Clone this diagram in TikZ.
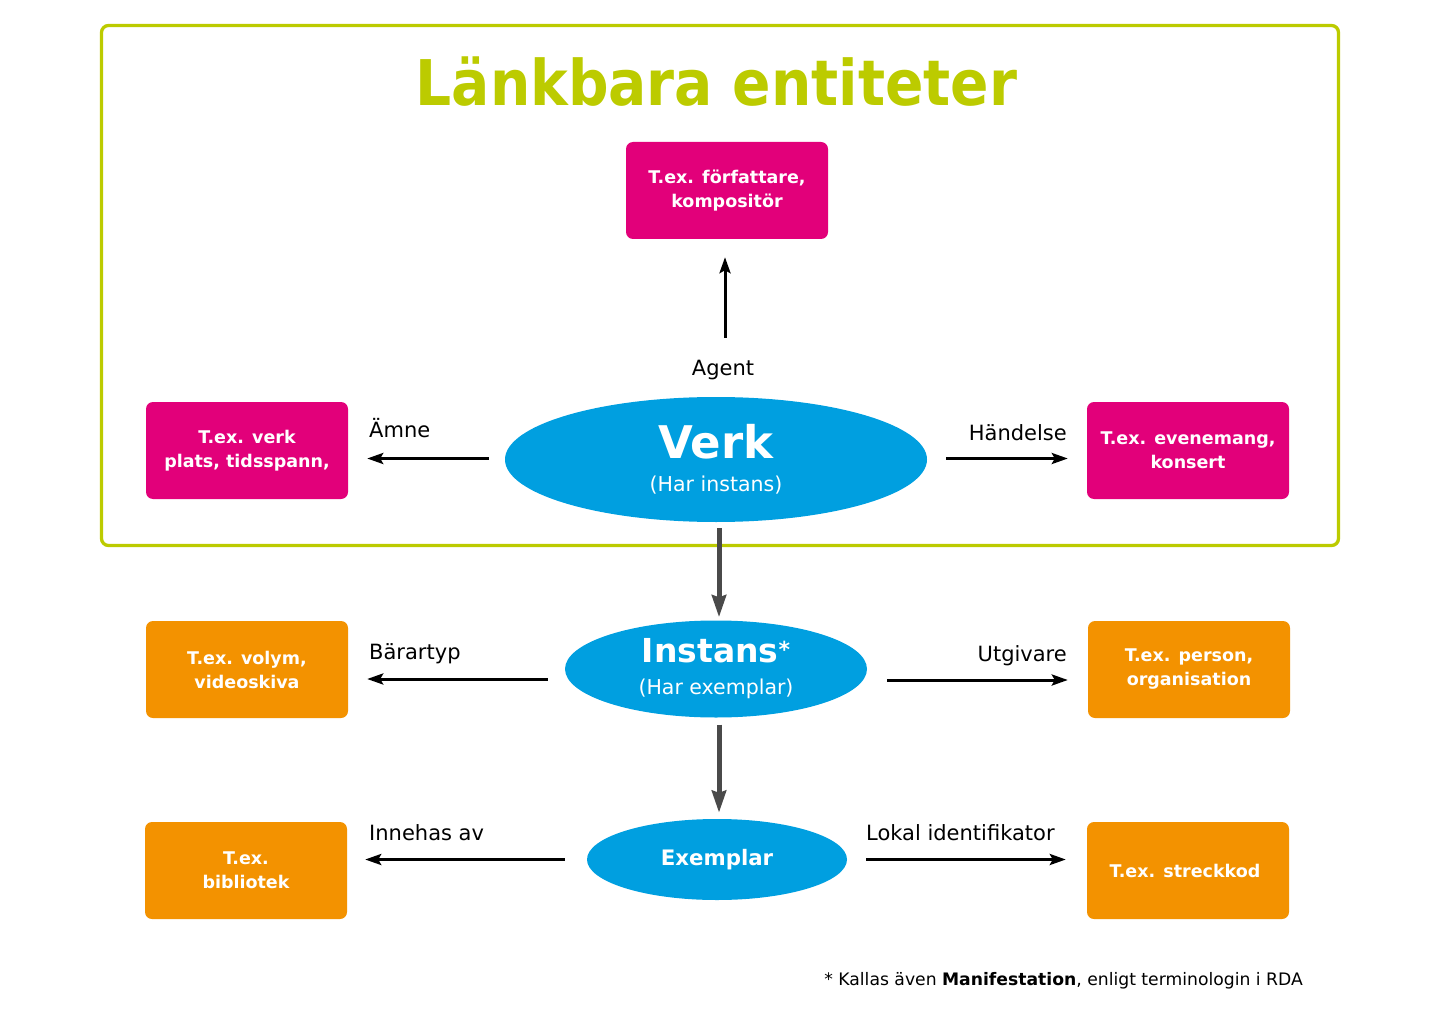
\documentclass[tikz,border=0pt]{standalone}
\usepackage{fontspec}
\setmainfont{DejaVu Sans}
\newfontfamily\titlefont{DejaVu Sans Condensed}
\usetikzlibrary{shapes.geometric, arrows.meta}
\usetikzlibrary{positioning}

\definecolor{lbgreen}{RGB}{188,203,0}
\definecolor{lbmagenta}{RGB}{226,0,122}
\definecolor{lborange}{RGB}{243,146,0}
\definecolor{lbblue}{RGB}{0,159,224}
\definecolor{lbgray}{RGB}{74,74,74}

\tikzset{
  entitybox/.style={rectangle, rounded corners=7pt, minimum width=202pt,
    minimum height=97pt, inner sep=0pt, align=center, text=white,
    font=\bfseries\fontsize{17.5}{24}\selectfont},
  entityell/.style={ellipse, fill=lbblue, inner sep=0pt, align=center,
    text=white},
  rellabel/.style={font=\fontsize{21}{25}\selectfont, inner sep=0pt},
  relarrow/.style={line width=3pt, -{Stealth[length=16pt, width=11pt, inset=3pt]}},
  hierarrow/.style={lbgray, line width=5pt, -{Stealth[length=22pt, width=14pt, inset=2pt]}}
}

\begin{document}
\begin{tikzpicture}[x=1pt, y=-1pt]
\useasboundingbox (0,0) rectangle (1440,1024);

% frame with title
\draw[lbgreen, line width=3.3pt, rounded corners=7pt] (101.5,25.5) rectangle (1338.5,545.5);
\node[anchor=base, text=lbgreen, inner sep=0pt,
  font=\titlefont\bfseries\fontsize{63}{63}\selectfont] (title) at (716.5,106) {Länkbara entiteter};

% central entities
\node[entityell, minimum width=422pt, minimum height=125pt,
  font=\fontsize{20.5}{33}\selectfont] (verk) at (716,459.5)
  {{\bfseries\fontsize{45}{45}\selectfont Verk}\\(Har instans)};
\node[entityell, minimum width=302pt, minimum height=97pt,
  font=\fontsize{20.5}{32}\selectfont] (instans) at (716,669)
  {{\bfseries\fontsize{33}{33}\selectfont Instans\raisebox{5pt}{\fontsize{22}{22}\selectfont *}}\\(Har exemplar)};
\node[entityell, minimum width=260pt, minimum height=81pt,
  font=\bfseries\fontsize{21.3}{25}\selectfont] (exemplar) at (717,859.5) {Exemplar};

% linked entities
\foreach \n/\c/\pos/\t in {
  agentbox/lbmagenta/{727,190.5}/{T.ex. författare,\\kompositör},
  amnebox/lbmagenta/{247,450.5}/{T.ex. verk\\plats, tidsspann,},
  handelsebox/lbmagenta/{1188,450.5}/{T.ex. evenemang,\\konsert},
  bararbox/lborange/{247,669.5}/{T.ex. volym,\\videoskiva},
  utgivarbox/lborange/{1189,669.5}/{T.ex. person,\\organisation},
  innehasbox/lborange/{246,870.5}/{T.ex.\\bibliotek},
  lokalbox/lborange/{1188,870.5}/{T.ex. streckkod}
}
{
  \node[entitybox, fill=\c] (\n) at (\pos) {\t};
}

% relations
\draw[relarrow, shorten <=59pt, shorten >=18pt] ([xshift=-2pt]agentbox.south |- verk.north) -- ([xshift=-2pt]agentbox.south);
\draw[relarrow, shorten <=16pt, shorten >=19pt] ([yshift=1pt]verk.west) -- ([yshift=1pt]verk.west -| amnebox.east);
\draw[relarrow, shorten <=19pt, shorten >=19pt] ([yshift=1pt]verk.east) -- ([yshift=1pt]verk.east -| handelsebox.west);
\draw[relarrow, shorten <=17pt, shorten >=19pt] ([yshift=-10pt]instans.west) -- ([yshift=-10pt]instans.west -| bararbox.east);
\draw[relarrow, shorten <=20pt, shorten >=20pt] ([yshift=-11pt]instans.east) -- ([yshift=-11pt]instans.east -| utgivarbox.west);
\draw[relarrow, shorten <=22pt, shorten >=18pt] (exemplar.west) -- (exemplar.west -| innehasbox.east);
\draw[relarrow, shorten <=19pt, shorten >=21pt] (exemplar.east) -- (exemplar.east -| lokalbox.west);

\node[rellabel, anchor=base] (agent) at (723,375) {Agent};
\node[rellabel, anchor=base west] (amne) at (369,437) {Ämne};
\node[rellabel, anchor=base east] (handelse) at (1067,440) {Händelse};
\node[rellabel, anchor=base west] (barartyp) at (369,659) {Bärartyp};
\node[rellabel, anchor=base east] (utgivare) at (1067,661) {Utgivare};
\node[rellabel, anchor=base west] (innehas) at (369,840) {Innehas av};
\node[rellabel, anchor=base west] (lokal) at (866,840) {Lokal identifikator};

% hierarchy
\draw[hierarrow, shorten <=6pt, shorten >=3pt] ([xshift=3pt]verk.south) -- ([xshift=3pt]instans.north);
\draw[hierarrow, shorten <=7pt, shorten >=6pt] ([xshift=3pt]instans.south) -- ([xshift=3pt]instans.south |- exemplar.north);

% footnote
\node[anchor=base east, inner sep=0pt, font=\fontsize{17.2}{20}\selectfont] (note) at (1303,985)
  {* Kallas även \textbf{Manifestation}, enligt terminologin i RDA};

\end{tikzpicture}
\end{document}
